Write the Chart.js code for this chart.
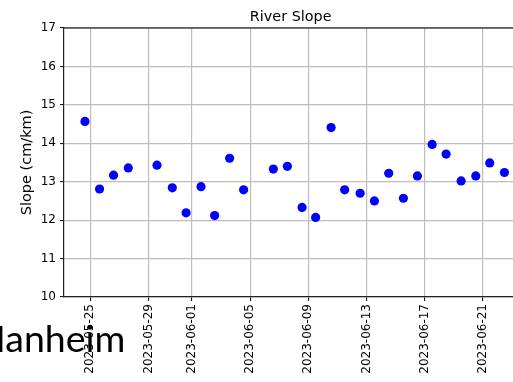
<!DOCTYPE html>
<html>
<head>
<meta charset="utf-8">
<title>River Slope</title>
<script src="https://cdn.jsdelivr.net/npm/chart.js@4.4.1/dist/chart.umd.min.js"></script>
<style>
    html, body { margin: 0; padding: 0; background: #fff; }
    body { width: 513px; height: 382px; overflow: hidden; position: relative; }
    #wrap { position: absolute; left: 0; top: 0; width: 530px; height: 382px; }
    #slide-text {
        position: absolute;
        left: -29px;
        top: 314px;
        font-family: Lato, "Open Sans", sans-serif;
        font-size: 37.5px;
        line-height: 48px;
        color: #000;
        white-space: nowrap;
        z-index: 2;
    }
</style>
</head>
<body>
<div id="wrap"><canvas id="slopeChart" width="530" height="382"></canvas></div>
<div id="slide-text">Manheim</div>

<script>
// --- DATOS ---
const passTimes = [
    '2023-05-24T15:15', '2023-05-25T15:20', '2023-05-26T14:25', '2023-05-27T14:45',
    '2023-05-29T14:10', '2023-05-30T15:25', '2023-05-31T14:10', '2023-06-01T14:50',
    '2023-06-02T13:20', '2023-06-03T14:05', '2023-06-04T13:10', '2023-06-06T14:15',
    '2023-06-07T13:25', '2023-06-08T13:40', '2023-06-09T12:05', '2023-06-10T13:35',
    '2023-06-11T12:00', '2023-06-12T13:30', '2023-06-13T13:05', '2023-06-14T12:45',
    '2023-06-15T13:00', '2023-06-16T12:05', '2023-06-17T12:25', '2023-06-18T11:30',
    '2023-06-19T12:15', '2023-06-20T12:25', '2023-06-21T11:30', '2023-06-22T11:45'
];
const slopeValues = [
    14.57, 12.81, 13.17, 13.36,
    13.43, 12.84, 12.19, 12.87,
    12.12, 13.61, 12.79, 13.33,
    13.40, 12.33, 12.07, 14.41,
    12.79, 12.70, 12.50, 13.22,
    12.57, 13.15, 13.97, 13.72,
    13.02, 13.15, 13.49, 13.24
];
const dateTicks = [
    '2023-05-25', '2023-05-29', '2023-06-01', '2023-06-05',
    '2023-06-09', '2023-06-13', '2023-06-17', '2023-06-21'
];
const yTicks = [10, 11, 12, 13, 14, 15, 16, 17];

// fechas -> ms (UTC)
function toMs(s) {
    const [d, t] = s.split('T');
    const [y, m, day] = d.split('-').map(Number);
    const [hh, mm] = (t || '00:00').split(':').map(Number);
    return Date.UTC(y, m - 1, day, hh, mm);
}

const points = passTimes.map((t, i) => ({ x: toMs(t), y: slopeValues[i] }));
const tickMs = dateTicks.map(toMs);

// margen de 5% como matplotlib
const xs = points.map(p => p.x);
const span = Math.max(...xs) - Math.min(...xs);
const xMin = Math.min(...xs) - span * 0.05;
const xMax = Math.max(...xs) + span * 0.05;

const FONT = 'DejaVu Sans';

// --- PLUGINS ---
const frameTitle = {
    id: 'frameTitle',
    afterDraw(chart) {
        const { ctx, chartArea } = chart;
        ctx.save();
        // top spine
        ctx.strokeStyle = '#000';
        ctx.lineWidth = 1.2;
        ctx.beginPath();
        ctx.moveTo(chartArea.left, chartArea.top);
        ctx.lineTo(chartArea.right, chartArea.top);
        ctx.stroke();
        // titulo
        ctx.fillStyle = '#000';
        ctx.font = `14.4px "${FONT}"`;
        ctx.textAlign = 'center';
        ctx.textBaseline = 'alphabetic';
        ctx.fillText('River Slope', (chartArea.left + chartArea.right) / 2 - 4, 20.5);
        ctx.restore();
    }
};

new Chart(document.getElementById('slopeChart'), {
    type: 'scatter',
    data: {
        datasets: [{
            data: points,
            backgroundColor: '#0000ff',
            borderWidth: 0,
            pointRadius: 4.6,
            pointHoverRadius: 4.6
        }]
    },
    options: {
        responsive: false,
        animation: false,
        devicePixelRatio: 1,
        layout: { padding: { top: 28, right: 4, left: 0, bottom: 0 } },
        plugins: {
            legend: { display: false },
            tooltip: { enabled: false }
        },
        scales: {
            x: {
                type: 'linear',
                min: xMin,
                max: xMax,
                afterBuildTicks: (scale) => { scale.ticks = tickMs.map(v => ({ value: v })); },
                afterFit: (scale) => { scale.height = 85; },
                grid: { color: '#bdbdbd', lineWidth: 1.2, tickLength: 4, tickColor: '#000', tickWidth: 1 },
                border: { color: '#222', width: 1.2 },
                ticks: {
                    autoSkip: false,
                    minRotation: 90,
                    maxRotation: 90,
                    padding: 3,
                    color: '#000',
                    font: { family: FONT, size: 12 },
                    callback: (v) => new Date(v).toISOString().slice(0, 10)
                }
            },
            y: {
                min: 10,
                max: 17,
                afterBuildTicks: (scale) => { scale.ticks = yTicks.map(v => ({ value: v })); },
                afterFit: (scale) => { scale.width = 64; },
                grid: { color: '#bdbdbd', lineWidth: 1.2, tickLength: 4, tickColor: '#000', tickWidth: 1 },
                border: { color: '#222', width: 1.2 },
                ticks: {
                    padding: 4,
                    color: '#000',
                    font: { family: FONT, size: 12 }
                },
                title: {
                    display: true,
                    text: 'Slope (cm/km)',
                    color: '#000',
                    font: { family: FONT, size: 14.5 },
                    padding: { top: 19, bottom: 0 }
                }
            }
        }
    },
    plugins: [frameTitle]
});
</script>
</body>
</html>
